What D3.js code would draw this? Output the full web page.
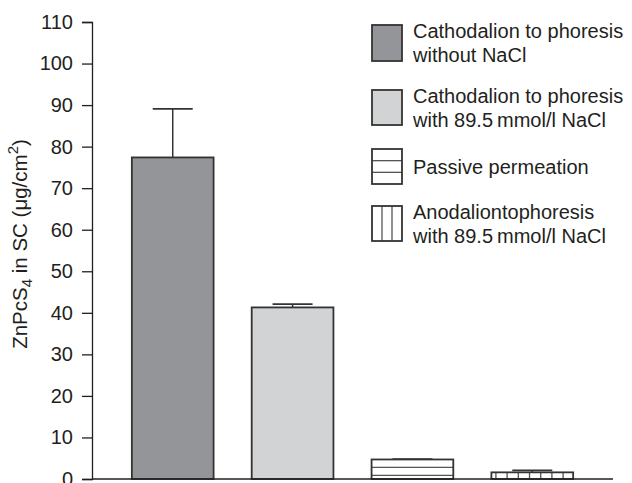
<!DOCTYPE html>
<html>
<head>
<meta charset="utf-8">
<script src="https://cdn.jsdelivr.net/npm/d3@7"></script>
<style>
  html, body { margin: 0; padding: 0; background: #fff; }
  svg { display: block; font-family: "Liberation Sans", Arial, Helvetica, sans-serif; }
</style>
</head>
<body>
<svg id="chart"></svg>
<script>
// groups shown on the x axis (no labels drawn, legend explains them)
const groups = ['cathNoNaCl', 'cathNaCl', 'passive', 'anodNaCl'];
// ZnPcS4 in SC, mean and upper error (µg/cm2)
const means = [77.4, 41.3, 4.7, 1.6];
const errors = [11.7, 0.8, 0.1, 0.5];
const yTicks = [0, 10, 20, 30, 40, 50, 60, 70, 80, 90, 100, 110];
const legendLabels = [
  ['Cathodalion to phoresis', 'without NaCl'],
  ['Cathodalion to phoresis', 'with 89.5\u2009mmol/l NaCl'],
  ['Passive permeation'],
  ['Anodaliontophoresis', 'with 89.5\u2009mmol/l NaCl']
];

const width = 632, height = 483;
const ink = '#231f20';
const fills = ['#939598', '#d1d3d4', '#ffffff', '#ffffff'];
const hatch = [null, null, 'h', 'v'];

const svg = d3.select('#chart')
  .attr('width', width)
  .attr('height', height)
  .attr('viewBox', `0 0 ${width} ${height}`);

const x = d3.scaleBand()
  .domain(groups)
  .range([92, 613])
  .paddingInner(0.318)
  .paddingOuter(0.3325);

const y = d3.scaleLinear()
  .domain([0, 110])
  .range([479, 22]);

// draws stripes inside a box
function stripes(g, x0, y0, w, h, kind, step, offset) {
  if (kind === 'h') {
    for (let yy = y0 + offset; yy < y0 + h - 1; yy += step) {
      g.append('line').attr('x1', x0).attr('x2', x0 + w).attr('y1', yy).attr('y2', yy)
        .attr('stroke', '#555').attr('stroke-width', 1.3);
    }
  } else if (kind === 'v') {
    for (let xx = x0 + offset; xx < x0 + w - 1; xx += step) {
      g.append('line').attr('x1', xx).attr('x2', xx).attr('y1', y0).attr('y2', y0 + h)
        .attr('stroke', '#555').attr('stroke-width', 1.3);
    }
  }
}

// bars
const bars = svg.append('g');
groups.forEach((gname, i) => {
  const bx = x(gname), bw = x.bandwidth();
  const by = y(means[i]), bh = y(0) - y(means[i]);
  bars.append('rect')
    .attr('x', bx).attr('y', by).attr('width', bw).attr('height', bh)
    .attr('fill', fills[i]);
  stripes(bars, bx, by, bw, bh, hatch[i], hatch[i] === 'h' ? 8 : 11.2, hatch[i] === 'h' ? 8 : 4.5);
  bars.append('rect')
    .attr('x', bx).attr('y', by).attr('width', bw).attr('height', bh)
    .attr('fill', 'none').attr('stroke', '#333').attr('stroke-width', 1.8);

  // error bar
  const cx = bx + bw / 2;
  const top = y(means[i] + errors[i]);
  bars.append('line')
    .attr('x1', cx).attr('x2', cx).attr('y1', by).attr('y2', top)
    .attr('stroke', '#333').attr('stroke-width', 1.5);
  bars.append('line')
    .attr('x1', cx - 20).attr('x2', cx + 20).attr('y1', top).attr('y2', top)
    .attr('stroke', '#333').attr('stroke-width', 1.8);
});

// y axis
const yAxis = svg.append('g')
  .attr('transform', 'translate(92,0)')
  .call(d3.axisLeft(y).tickValues(yTicks).tickSize(10).tickPadding(9));
yAxis.select('.domain').attr('stroke', ink).attr('stroke-width', 1.3);
yAxis.selectAll('.tick line').attr('stroke', ink).attr('stroke-width', 1.3);
yAxis.selectAll('.tick text')
  .attr('fill', ink)
  .attr('font-size', '20px')
  .attr('font-family', '"Liberation Sans", Arial, sans-serif');

// x axis baseline
svg.append('line')
  .attr('x1', 92).attr('x2', 613)
  .attr('y1', y(0)).attr('y2', y(0))
  .attr('stroke', ink).attr('stroke-width', 1.3);

// y label
const yl = svg.append('text')
  .attr('transform', 'translate(27,244) rotate(-90)')
  .attr('text-anchor', 'middle')
  .attr('font-size', '20.5px')
  .attr('fill', ink);
yl.append('tspan').text('ZnPcS');
yl.append('tspan').attr('font-size', '15px').attr('dy', 5).text('4');
yl.append('tspan').attr('dy', -5).text(' in SC (\u03bcg/cm');
yl.append('tspan').attr('font-size', '15px').attr('dy', -9).text('2');
yl.append('tspan').attr('dy', 9).text(')');

// legend
const legendBoxes = [[25, 36], [90, 35], [149, 35], [206, 35]];
const legend = svg.append('g');
legendLabels.forEach((lines, i) => {
  const [ly, lh] = legendBoxes[i];
  const lx = 372, lw = 30;
  legend.append('rect')
    .attr('x', lx).attr('y', ly).attr('width', lw).attr('height', lh)
    .attr('fill', fills[i]);
  stripes(legend, lx, ly, lw, lh, hatch[i], hatch[i] === 'h' ? lh / 3 : lw / 3, hatch[i] === 'h' ? lh / 3 : lw / 3);
  legend.append('rect')
    .attr('x', lx).attr('y', ly).attr('width', lw).attr('height', lh)
    .attr('fill', 'none').attr('stroke', '#333').attr('stroke-width', 1.8);
  const t = legend.append('text')
    .attr('x', 413)
    .attr('y', lines.length === 1 ? ly + lh / 2 + 7 : ly + 13)
    .attr('font-size', '20px')
    .attr('fill', ink);
  lines.forEach((s, j) => {
    t.append('tspan').attr('x', 413).attr('dy', j === 0 ? 0 : 24).text(s);
  });
});
</script>
</body>
</html>
